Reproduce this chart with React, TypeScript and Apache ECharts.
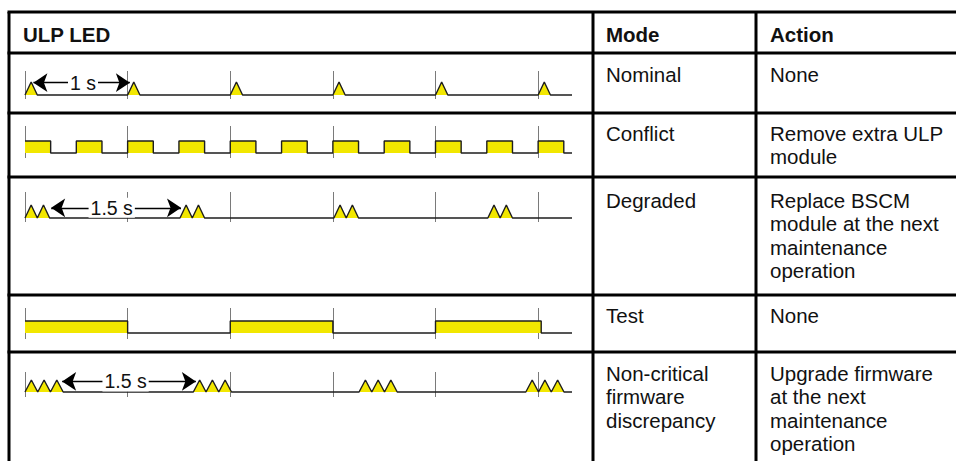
import React, { useEffect, useRef } from 'react';
import * as echarts from 'echarts';

// ---------- data ----------
const headers = ['ULP LED', 'Mode', 'Action'];
const modes = ['Nominal', 'Conflict', 'Degraded', 'Test', 'Non-critical\nfirmware\ndiscrepancy'];
const actions = [
  'None',
  'Remove extra ULP\nmodule',
  'Replace BSCM\nmodule at the next\nmaintenance\noperation',
  'None',
  'Upgrade firmware\nat the next\nmaintenance\noperation',
];

// time in ms; reference ticks every second
const timeTickStep = 1000;
const timeEnd = 5330;

const nominalWave = [
  [0, 0], [60, 1], [120, 0],
  [1000, 0], [1060, 1], [1120, 0],
  [2000, 0], [2060, 1], [2120, 0],
  [3000, 0], [3060, 1], [3120, 0],
  [4000, 0], [4060, 1], [4120, 0],
  [5000, 0], [5060, 1], [5120, 0],
  [5330, 0],
];

const conflictWave = [
  [0, 1], [250, 1], [250, 0], [500, 0],
  [500, 1], [750, 1], [750, 0], [1000, 0],
  [1000, 1], [1250, 1], [1250, 0], [1500, 0],
  [1500, 1], [1750, 1], [1750, 0], [2000, 0],
  [2000, 1], [2250, 1], [2250, 0], [2500, 0],
  [2500, 1], [2750, 1], [2750, 0], [3000, 0],
  [3000, 1], [3250, 1], [3250, 0], [3500, 0],
  [3500, 1], [3750, 1], [3750, 0], [4000, 0],
  [4000, 1], [4250, 1], [4250, 0], [4500, 0],
  [4500, 1], [4750, 1], [4750, 0], [5000, 0],
  [5000, 1], [5250, 1], [5250, 0], [5330, 0],
];

const degradedWave = [
  [0, 0], [60, 1], [120, 0], [180, 1], [240, 0],
  [1510, 0], [1570, 1], [1630, 0], [1690, 1], [1750, 0],
  [3010, 0], [3070, 1], [3130, 0], [3190, 1], [3250, 0],
  [4510, 0], [4570, 1], [4630, 0], [4690, 1], [4750, 0],
  [5330, 0],
];

const testWave = [
  [0, 1], [1000, 1], [1000, 0], [2000, 0],
  [2000, 1], [3000, 1], [3000, 0], [4000, 0],
  [4000, 1], [5030, 1], [5030, 0], [5330, 0],
];

const discrepancyWave = [
  [0, 0], [62, 1], [124, 0], [186, 1], [248, 0], [310, 1], [372, 0],
  [1640, 0], [1702, 1], [1764, 0], [1826, 1], [1888, 0], [1950, 1], [2012, 0],
  [3255, 0], [3317, 1], [3379, 0], [3441, 1], [3503, 0], [3565, 1], [3627, 0],
  [4880, 0], [4942, 1], [5004, 0], [5066, 1], [5128, 0], [5190, 1], [5252, 0],
  [5330, 0],
];

const waves = [nominalWave, conflictWave, degradedWave, testWave, discrepancyWave];

// period annotations
const arrowRows = [0, 2, 4];
const arrowLabels = ['1 s', '1.5 s', '1.5 s'];
const arrowStarts = [82, 255, 362];
const arrowEnds = [1022, 1520, 1665];
const arrowLevels = [0.95, 0.78, 0.88];
const arrowLabelTimes = [565, 845, 980];

// ---------- layout ----------
const FONT = '"Liberation Sans", Arial, Helvetica, sans-serif';
const FONT_SIZE = 20.5;
const rowLines = [12, 53, 113, 177, 295, 352, 475];
const colLines = [9, 593, 756, 962];
const headerCenter = 34;
const rowTextCenters = [74, 133, 200, 315, 373];
const textX = [23, 606, 770];
const LINE_H = 23.5;

const waveBoxes = [
  { top: 71, bottom: 99, base: 95, peak: 82 },
  { top: 126, bottom: 158, base: 153, peak: 141 },
  { top: 192, bottom: 222, base: 218, peak: 205 },
  { top: 308, bottom: 339, base: 333, peak: 321 },
  { top: 372, bottom: 397, base: 392, peak: 380 },
];
const waveLeft = 25;
const waveWidth = 547;

function buildOption() {
  const grid: any[] = [];
  const xAxis: any[] = [];
  const yAxis: any[] = [];
  const series: any[] = [];

  waveBoxes.forEach((b, i) => {
    const unit = b.base - b.peak;
    grid.push({ left: waveLeft, width: waveWidth, top: b.top, height: b.bottom - b.top, containLabel: false });
    xAxis.push({
      type: 'value', gridIndex: i, min: 0, max: timeEnd, interval: timeTickStep,
      axisLine: { show: false }, axisTick: { show: false }, axisLabel: { show: false },
      splitLine: { show: true, showMinLine: true, showMaxLine: false, lineStyle: { color: '#7a7a7a', width: 1 } },
    });
    yAxis.push({
      type: 'value', gridIndex: i, show: false,
      min: -(b.bottom - b.base) / unit, max: (b.base - b.top) / unit,
      splitLine: { show: false },
    });
    const s: any = {
      type: 'line', xAxisIndex: i, yAxisIndex: i, data: waves[i],
      symbol: 'none', silent: true, z: 3,
      lineStyle: { color: '#1e1e1e', width: 1.4 },
      areaStyle: { color: '#f2e700', opacity: 1, origin: 0 },
    };
    const a = arrowRows.indexOf(i);
    if (a >= 0) {
      s.markLine = {
        silent: true,
        symbol: ['arrow', 'arrow'],
        symbolSize: 14,
        label: { show: false },
        lineStyle: { color: '#000', width: 1.3, type: 'solid' },
        itemStyle: { color: '#000' },
        emphasis: { disabled: true },
        data: [[{ coord: [arrowStarts[a], arrowLevels[a]] }, { coord: [arrowEnds[a], arrowLevels[a]] }]],
      };
    }
    series.push(s);
    if (a >= 0) {
      series.push({
        type: 'scatter', xAxisIndex: i, yAxisIndex: i, silent: true, z: 6,
        symbolSize: 1, itemStyle: { color: 'rgba(255,255,255,0)' },
        data: [[arrowLabelTimes[a], arrowLevels[a]]],
        label: {
          show: true, position: 'inside', formatter: arrowLabels[a],
          fontFamily: FONT, fontSize: 19.5, color: '#111111',
          textBorderWidth: 0, opacity: 1,
          backgroundColor: '#ffffff', padding: [0, 2],
        },
      });
    }
  });

  const graphic: any[] = [];
  rowLines.forEach((y) => {
    graphic.push({ type: 'line', silent: true, z: 10, shape: { x1: colLines[0] - 1.5, y1: y, x2: 970, y2: y }, style: { stroke: '#000', lineWidth: 3 } });
  });
  colLines.forEach((x) => {
    graphic.push({ type: 'line', silent: true, z: 10, shape: { x1: x, y1: rowLines[0], x2: x, y2: 480 }, style: { stroke: '#000', lineWidth: 3 } });
  });
  headers.forEach((h, i) => {
    graphic.push({
      type: 'text', silent: true, z: 10, x: textX[i], y: headerCenter - LINE_H / 2,
      style: { text: h, font: `bold ${FONT_SIZE}px ${FONT}`, fill: '#111111', align: 'left', verticalAlign: 'top', lineHeight: LINE_H },
    });
  });
  modes.forEach((m, r) => {
    graphic.push({
      type: 'text', silent: true, z: 10, x: textX[1], y: rowTextCenters[r] - LINE_H / 2,
      style: { text: m, font: `${FONT_SIZE}px ${FONT}`, fill: '#111111', align: 'left', verticalAlign: 'top', lineHeight: LINE_H },
    });
    graphic.push({
      type: 'text', silent: true, z: 10, x: textX[2], y: rowTextCenters[r] - LINE_H / 2,
      style: { text: actions[r], font: `${FONT_SIZE}px ${FONT}`, fill: '#111111', align: 'left', verticalAlign: 'top', lineHeight: LINE_H },
    });
  });

  return {
    animation: false,
    backgroundColor: '#ffffff',
    grid, xAxis, yAxis, series, graphic,
  };
}

export default function App() {
  const ref = useRef<HTMLDivElement>(null);
  useEffect(() => {
    if (!ref.current) return;
    const chart = echarts.init(ref.current, null, { renderer: 'svg' });
    chart.setOption(buildOption() as any);
    return () => chart.dispose();
  }, []);
  return (
    <div
      ref={ref}
      style={{ position: 'fixed', left: 0, top: 0, width: 956, height: 461, background: '#fff' }}
    />
  );
}
